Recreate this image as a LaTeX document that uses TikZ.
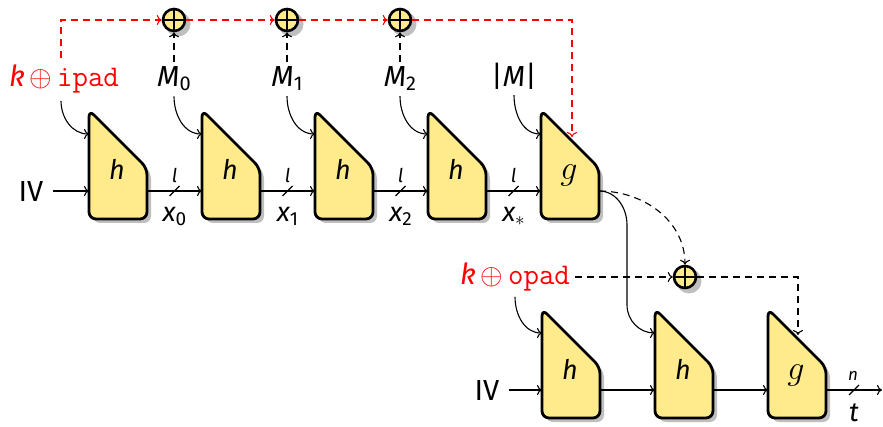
\documentclass[tikz,border=0pt]{standalone}
\usepackage{fix-cm}
\usepackage{fontspec}
\setmainfont{Fira Sans}
\usetikzlibrary{arrows.meta}
\definecolor{blockfill}{RGB}{255,234,140}
\definecolor{keyred}{RGB}{255,0,0}
\newcommand\subx[1]{\raisebox{-4pt}{\fontsize{20}{20}\selectfont\upshape #1}}
\newcommand\subs[1]{\raisebox{-4pt}{\fontsize{19}{19}\selectfont\upshape #1}}
\tikzset{
  blk/.style={draw=black, line width=2.8pt, fill=blockfill, line join=round},
  shadowc/.style={fill=black!25},
  conn/.style={line width=1.1pt, -{To[length=5pt,width=10pt]}},
  kdash/.style={conn, dash pattern=on 7pt off 5pt},
  rdash/.style={kdash, draw=keyred},
  lbl/.style={font=\fontsize{29}{29}\selectfont, inner sep=5pt, anchor=base},
  blbl/.style={font=\fontsize{27}{27}\selectfont, inner sep=1pt, anchor=base},
  biglbl/.style={font=\fontsize{29}{29}\selectfont, inner sep=9pt, anchor=base},
  xlbl/.style={font=\fontsize{27}{27}\selectfont, inner sep=1pt, anchor=base},
  smalllbl/.style={font=\fontsize{19}{19}\selectfont, inner sep=1pt, anchor=base},
  tinylbl/.style={font=\fontsize{17}{17}\selectfont, inner sep=1pt, anchor=base},
  slashline/.style={line width=1.1pt},
  xorc/.style={circle, draw, line width=2.6pt, fill=blockfill, minimum size=22pt, inner sep=0pt},
}
% block: name, left x, top y, text
\newcommand\cblock[4]{%
  \fill[shadowc, shift={(4,4)}, rounded corners=7pt] (#2+29,#3+108) -- (#2,#3+108) -- (#2,#3-1) -- (#2+58,#3+57) -- (#2+58,#3+108) -- cycle;
  \draw[blk, rounded corners=7pt] (#2+29,#3+108) -- (#2,#3+108) -- (#2,#3-1) -- (#2+58,#3+57) -- (#2+58,#3+108) -- cycle;
  \node[blbl] (#1) at (#2+28,#3+69) {#4};
  \coordinate (#1-key) at (#2,#3+23);
  \coordinate (#1-in) at (#2,#3+80);
  \coordinate (#1-out) at (#2+58,#3+80);
}
% xor: name, x, y
\newcommand\xornode[3]{%
  \fill[shadowc] (#2+4,#3+4) circle (12.5pt);
  \node[xorc] (#1) at (#2,#3) {};
  \draw[line width=2.4pt] (#1.north) -- (#1.south) (#1.west) -- (#1.east);
}
% slash mark on a wire
\newcommand\wslash[1]{%
  \draw[slashline] ([shift={(-5,5)}]#1) -- ([shift={(5,-5)}]#1);
}
\newcommand\gsym{{\fontsize{34}{34}\selectfont$g$}}
\begin{document}
\begin{tikzpicture}[x=1pt,y=-1pt]
\useasboundingbox (0,0) rectangle (883,427);

% ---------- top row ----------
\cblock{b1}{89}{111}{\itshape h}
\cblock{b2}{202}{111}{\itshape h}
\cblock{b3}{315}{111}{\itshape h}
\cblock{b4}{428}{111}{\itshape h}
\cblock{g1}{541}{111}{\gsym}
\coordinate (g1-diag) at (572,137);

\node[lbl, text=keyred, inner sep=7pt] (kip) at (64,87) {\itshape k\,\upshape$\oplus$\,{\ttfamily\fontsize{30}{30}\selectfont ipad}};
\node[lbl] (m0) at (174,87) {\itshape M\subx{0}};
\node[lbl] (m1) at (287,87) {\itshape M\subx{1}};
\node[lbl] (m2) at (400,87) {\itshape M\subx{2}};
\node[lbl] (mm) at (514,87) {|\itshape M\/\upshape|};

\xornode{x1}{174}{20}
\xornode{x2}{287}{20}
\xornode{x3}{400}{20}

\draw[rdash] (kip.north -| 61,0) |- (x1);
\draw[rdash] (x1) -- (x2);
\draw[rdash] (x2) -- (x3);
\draw[rdash] (x3) -| (g1-diag);

\draw[kdash] (m0) -- (x1);
\draw[kdash] (m1) -- (x2);
\draw[kdash] (m2) -- (x3);

\draw[conn] (kip.south -| 61,0) to[out=-90,in=180] (b1-key);
\draw[conn] (m0.south) to[out=-90,in=180] (b2-key);
\draw[conn] (m1.south) to[out=-90,in=180] (b3-key);
\draw[conn] (m2.south) to[out=-90,in=180] (b4-key);
\draw[conn] (mm.south) to[out=-90,in=180] (g1-key);

\node[biglbl] (iv1) at (31,202) {IV};
\draw[conn] (b1-in -| iv1.east) -- (b1-in);

\draw[conn] (b1-out) -- coordinate (s1) (b2-in);
\draw[conn] (b2-out) -- coordinate (s2) (b3-in);
\draw[conn] (b3-out) -- coordinate (s3) (b4-in);
\draw[conn] (b4-out) -- coordinate (s4) (g1-in);
\wslash{s1}\wslash{s2}\wslash{s3}\wslash{s4}
\node[smalllbl] (l1) at ([shift={(0,-8)}]s1) {\itshape l};
\node[smalllbl] (l2) at ([shift={(0,-8)}]s2) {\itshape l};
\node[smalllbl] (l3) at ([shift={(0,-8)}]s3) {\itshape l};
\node[smalllbl] (l4) at ([shift={(0,-8)}]s4) {\itshape l};
\node[xlbl] (xv0) at ([shift={(0,31)}]s1) {\itshape x\subs{0}};
\node[xlbl] (xv1) at ([shift={(0,31)}]s2) {\itshape x\subs{1}};
\node[xlbl] (xv2) at ([shift={(0,31)}]s3) {\itshape x\subs{2}};
\node[xlbl] (xvs) at ([shift={(0,31)}]s4) {\itshape x\subs{$*$}};

% ---------- bottom row ----------
\cblock{c1}{542}{310}{\itshape h}
\cblock{c2}{655}{310}{\itshape h}
\cblock{c3}{768}{310}{\gsym}
\coordinate (c3-diag) at (798,335);

\node[lbl, text=keyred] (kop) at (515,285) {\itshape k\,\upshape$\oplus$\,{\ttfamily\fontsize{30}{30}\selectfont opad}};
\xornode{x4}{685}{277}

\draw[kdash] (g1-out) to[out=0,in=90] (x4);
\draw[conn] (g1-out) to[out=0,in=90] (627,225) -- (627,305) to[out=-90,in=180] (c2-key);
\draw[kdash] (kop.east |- x4) -- (x4);
\draw[kdash] (x4) -| (c3-diag);
\draw[conn] (kop.south) to[out=-90,in=180] (c1-key);

\node[biglbl] (iv2) at (487,400) {IV};
\draw[conn] (c1-in -| iv2.east) -- (c1-in);
\draw[conn] (c1-out) -- (c2-in);
\draw[conn] (c2-out) -- (c3-in);
\coordinate (tend) at (882,390);
\draw[conn] (c3-out) -- coordinate (s5) (tend);
\wslash{s5}
\node[tinylbl] (nlab) at ([shift={(-1,-9)}]s5) {\itshape n};
\node[xlbl] (tlab) at ([shift={(0,31)}]s5) {\itshape t};
\end{tikzpicture}
\end{document}
